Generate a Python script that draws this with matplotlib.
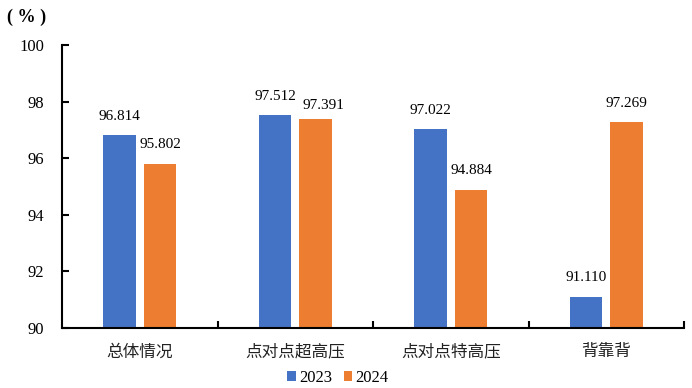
import matplotlib.pyplot as plt
import numpy as np

categories = ['总体情况', '点对点超高压', '点对点特高压', '背靠背']
values_2023 = [96.814, 97.512, 97.022, 91.110]
values_2024 = [95.802, 97.391, 94.884, 97.269]
years = ['2023', '2024']

serif = ['Liberation Serif', 'Noto Sans CJK SC']
cjk = ['Noto Sans CJK SC', 'DejaVu Sans']

fig = plt.figure(figsize=(6.92, 3.88), dpi=100)
ax = fig.add_axes([0.0896, 0.1546, 0.899, 0.7294])

x = np.arange(len(categories))
w = 0.21
off = 0.13
b1 = ax.bar(x - off, values_2023, w, color='#4472C4', label=years[0])
b2 = ax.bar(x + off, values_2024, w, color='#ED7D31', label=years[1])

for bars, vals in ((b1, values_2023), (b2, values_2024)):
    for b, v in zip(bars, vals):
        # the 97.391 label is nudged right/down so it does not touch its neighbour
        shift = (6, -4) if v == 97.391 else (0, 0)
        ax.annotate(f'{v:.3f}', (b.get_x() + b.get_width() / 2, v), xytext=(shift[0], 9 + shift[1]),
                    textcoords='offset points', ha='center', va='bottom', fontsize=11, family=serif)

ax.set_ylim(90, 100)
ax.set_xlim(-0.5, len(categories) - 0.5)
ax.set_yticks(np.arange(90, 101, 2))
ax.set_yticklabels([str(t) for t in range(90, 101, 2)], family=serif, fontsize=12)
ax.set_xticks(x)
ax.set_xticklabels(categories, family=cjk, fontsize=12, weight='light', color='#222222')
ax.tick_params(axis='x', length=0, pad=11)
ax.set_xticks(np.arange(0.5, len(categories), 1), minor=True)
ax.tick_params(axis='x', which='minor', length=5, width=1.5, direction='in')
ax.tick_params(axis='y', length=5, width=1.5, direction='in', pad=13)

for s in ['top', 'right']:
    ax.spines[s].set_visible(False)
for s in ['left', 'bottom']:
    ax.spines[s].set_linewidth(1.5)

fig.text(7 / 692, 1 - 17 / 388, '( % )', family=serif, fontsize=13, va='center', weight='bold')

leg = fig.legend(loc='center', bbox_to_anchor=(0.5 - 8 / 692, 1 - 378 / 388), ncol=2, frameon=False,
                 prop={'family': serif, 'size': 12}, handlelength=0.5, handleheight=0.5,
                 handletextpad=0.2, columnspacing=0.7)

fig.savefig('out.png', dpi=100)
